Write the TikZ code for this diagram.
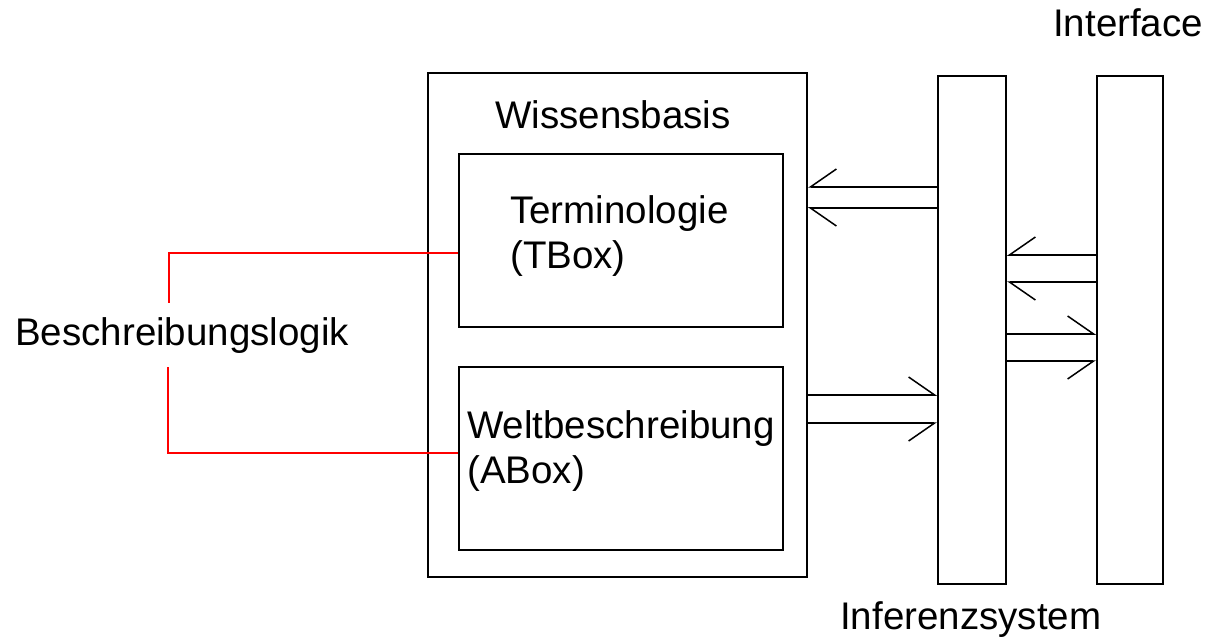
\documentclass[tikz,border=0pt]{standalone}
\usepackage{fontspec}
\setmainfont{Liberation Sans}
\usetikzlibrary{arrows.meta}
\begin{document}
\begin{tikzpicture}[x=1pt,y=-1pt,
  box/.style={draw=black, line width=2pt, inner sep=0pt, anchor=north west},
  lbl/.style={inner sep=0pt, font=\fontsize{38.5}{45}\selectfont},
  link/.style={draw=black, line width=2pt},
  redline/.style={draw=red, line width=2pt},
  barbup/.style={-{Straight Barb[harpoon,swap,length=26pt,width=36pt,line width=1.5pt]}},
  barbdn/.style={-{Straight Barb[harpoon,length=26pt,width=36pt,line width=1.5pt]}}]
\useasboundingbox (0,0) rectangle (1210,639);
\node[box, minimum width=379, minimum height=504] (wb) at (427,72) {};
\node[box, minimum width=324, minimum height=173] (tbox) at (458,153) {};
\node[box, minimum width=324, minimum height=183] (abox) at (458,366) {};
\node[box, minimum width=68, minimum height=508] (inf) at (937,75) {};
\node[box, minimum width=66, minimum height=508] (iface) at (1096,75) {};
\node[lbl, anchor=base] (wbl) at (613,129) {Wissensbasis};
\node[lbl, anchor=base west, align=left] (tl) at (510,268) {Terminologie\\(TBox)};
\node[lbl, anchor=base west, align=left] (al) at (467,483) {Weltbeschreibung\\(ABox)};
\node[lbl, anchor=base west] (bl) at (15,345) {Beschreibungslogik};
\node[lbl, anchor=base west] (ifl) at (1053,37) {Interface};
\node[lbl, anchor=base west] (infl) at (840,629) {Inferenzsystem};
\coordinate (ya) at (0,187);
\coordinate (yb) at (0,208);
\coordinate (yc) at (0,255);
\coordinate (yd) at (0,282);
\coordinate (ye) at (0,334);
\coordinate (yf) at (0,361);
\coordinate (yg) at (0,395);
\coordinate (yh) at (0,423);
\draw[link, barbup] (inf.west |- ya) -- (wb.east |- ya);
\draw[link, barbdn] (inf.west |- yb) -- (wb.east |- yb);
\draw[link, barbup] (iface.west |- yc) -- (inf.east |- yc);
\draw[link, barbdn] (iface.west |- yd) -- (inf.east |- yd);
\draw[link, barbdn] (inf.east |- ye) -- (iface.west |- ye);
\draw[link, barbup] (inf.east |- yf) -- (iface.west |- yf);
\draw[link, barbdn] (wb.east |- yg) -- (inf.west |- yg);
\draw[link, barbup] (wb.east |- yh) -- (inf.west |- yh);
\coordinate (rt) at (169,303);
\coordinate (rb) at (168,367);
\draw[redline] (tbox.west |- 0,253) -- (rt |- 0,253) -- (rt);
\draw[redline] (rb) -- (rb |- 0,453) -- (abox.west |- 0,453);
\end{tikzpicture}
\end{document}
